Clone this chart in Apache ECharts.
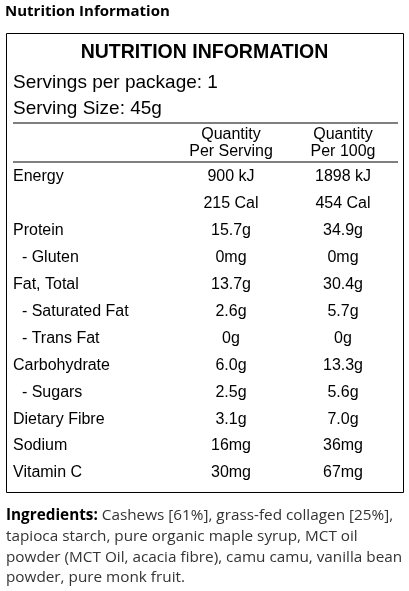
<!DOCTYPE html>
<html><head><meta charset="utf-8">
<script src="https://cdn.jsdelivr.net/npm/echarts@6/dist/echarts.min.js"></script>
<style>html,body{margin:0;padding:0;background:#fff}#c{width:409px;height:591px}</style>
</head><body><div id="c"></div>
<script>
const pageTitle = "Nutrition Information";
const panelTitle = "NUTRITION INFORMATION";
const servingsLines = ["Servings per package: 1", "Serving Size: 45g"];
const columnHeaders = [["Quantity", "Per Serving"], ["Quantity", "Per 100g"]];
const nutrients = ["Energy", "", "Protein", "  - Gluten", "Fat, Total", "  - Saturated Fat", "  - Trans Fat", "Carbohydrate", "  - Sugars", "Dietary Fibre", "Sodium", "Vitamin C"];
const perServing = ["900 kJ", "215 Cal", "15.7g", "0mg", "13.7g", "2.6g", "0g", "6.0g", "2.5g", "3.1g", "16mg", "30mg"];
const per100g = ["1898 kJ", "454 Cal", "34.9g", "0mg", "30.4g", "5.7g", "0g", "13.3g", "5.6g", "7.0g", "36mg", "67mg"];
const ingredientsLabel = "Ingredients:";
const ingredientsLines = [" Cashews [61%], grass-fed collagen [25%],", "tapioca starch, pure organic maple syrup, MCT oil", "powder (MCT Oil, acacia fibre), camu camu, vanilla bean", "powder, pure monk fruit."];

const F = "Liberation Sans, Arial, sans-serif";
const F2 = "Open Sans, Noto Sans, sans-serif";
const els = [];
function t(x, y, text, size, opt) {
  els.push(Object.assign({type:'text', x, y, style:Object.assign({text, font: (opt&&opt.bold?'bold ':'') + size + 'px ' + (opt&&opt.ff||F), fill:'#000', textAlign:(opt&&opt.align)||'left', textVerticalAlign:'middle'}, opt&&opt.style||{})}));
}
t(5, 12, pageTitle, 15, {bold:true, ff:F2});
els.push({type:'rect', shape:{x:6.5, y:33.5, width:397, height:459}, style:{fill:'none', stroke:'#000', lineWidth:1}});
t(204.5, 53, panelTitle, 19.5, {bold:true, align:'center'});
servingsLines.forEach((s,i)=>t(13, 83 + i*26, s, 19));
els.push({type:'line', shape:{x1:13, y1:123, x2:398, y2:123}, style:{stroke:'#000', lineWidth:1}});
els.push({type:'line', shape:{x1:13, y1:162, x2:398, y2:162}, style:{stroke:'#000', lineWidth:1}});
const colX = [231, 343];
columnHeaders.forEach((h,c)=>h.forEach((s,i)=>t(colX[c], 135 + i*17, s, 16, {align:'center'})));
nutrients.forEach((n,i)=>{
  const y = 177 + i*26.9;
  if (n) t(13, y, n, 16, {style:{whiteSpace:'pre'}});
  t(colX[0], y, perServing[i], 16, {align:'center'});
  t(colX[1], y, per100g[i], 16, {align:'center'});
});
ingredientsLines.forEach((s,i)=>{
  const y = 516 + i*20.7;
  if (i===0) {
    els.push({type:'text', x:6, y, style:{rich:{b:{font:'bold 15.3px '+F2, fill:'#000'}, n:{font:'15.3px '+F2, fill:'#333'}}, text:'{b|'+ingredientsLabel+'}{n|'+s+'}', textVerticalAlign:'middle'}});
  } else t(6, y, s, 15.3, {ff:F2, style:{fill:'#333'}});
});
const chart = echarts.init(document.getElementById('c'), null, {renderer:'canvas'});
chart.setOption({animation:false, graphic:{elements:els}});
</script></body></html>
